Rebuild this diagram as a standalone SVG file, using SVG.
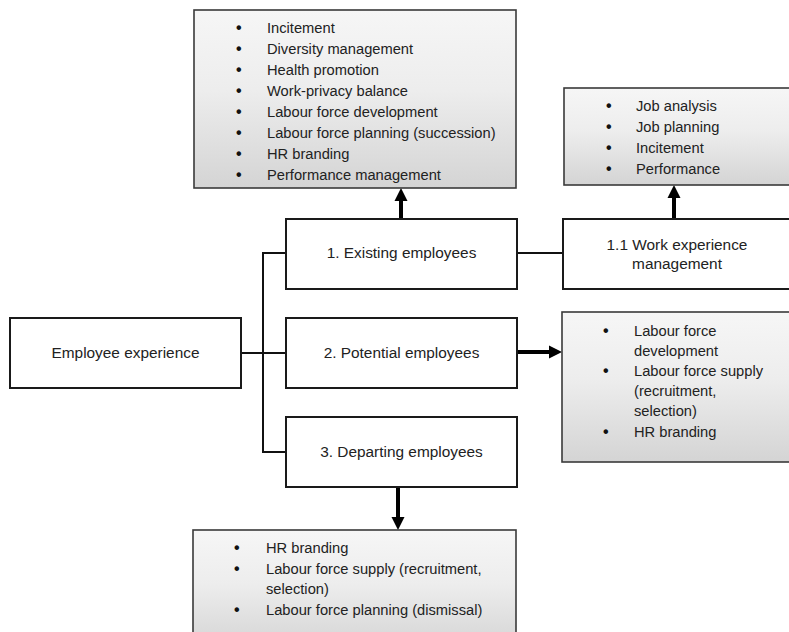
<svg xmlns="http://www.w3.org/2000/svg" width="789" height="632" viewBox="0 0 789 632">
<style>
  .node { fill: #ffffff; stroke: #1a1a1a; stroke-width: 2; }
  .list { fill: url(#grey); stroke: #3a3a3a; stroke-width: 1.6; }
  .lbl { font-family: "Liberation Sans", Arial, sans-serif; font-size: 15.4px; fill: #222222; text-anchor: middle; }
  .li { font-family: "Liberation Sans", Arial, sans-serif; font-size: 14.7px; fill: #222222; }
  .bul { font-family: "Liberation Sans", Arial, sans-serif; font-size: 16px; font-weight: bold; fill: #111111; }
  .line { fill: none; stroke: #111; stroke-width: 2; }
  .arrow { fill: none; stroke: #000; stroke-width: 4; marker-end: url(#head); }
</style>
<defs>
  <linearGradient id="grey" x1="0" y1="0" x2="0" y2="1">
    <stop offset="0" stop-color="#f6f6f6"/>
    <stop offset="0.45" stop-color="#ededed"/>
    <stop offset="1" stop-color="#d4d4d4"/>
  </linearGradient>
  <marker id="head" markerUnits="userSpaceOnUse" markerWidth="14" markerHeight="14" refX="4" refY="6.5" orient="auto" viewBox="0 0 14 13">
    <path d="M0,0 L13,6.5 L0,13 z" fill="#000"/>
  </marker>
</defs>
<rect width="789" height="632" fill="#ffffff"/>

<g id="connectors">
  <polyline class="line" points="241,353 286,353"/>
  <polyline class="line" points="286,253 263,253 263,452 286,452"/>
  <polyline class="line" points="517,253 563,253"/>
  <line class="arrow" x1="401" y1="219" x2="401" y2="197"/>
  <line class="arrow" x1="674" y1="219" x2="674" y2="194"/>
  <line class="arrow" x1="518" y1="352" x2="553" y2="352"/>
  <line class="arrow" x1="398" y1="487" x2="398" y2="521"/>
</g>

<g id="employee-experience">
  <rect class="node" x="10" y="318" width="231" height="70"/>
  <text class="lbl" x="125.5" y="358">Employee experience</text>
</g>

<g id="existing-employees">
  <rect class="node" x="286" y="219" width="231" height="70"/>
  <text class="lbl" x="401.5" y="258">1. Existing employees</text>
</g>

<g id="potential-employees">
  <rect class="node" x="286" y="318" width="231" height="70"/>
  <text class="lbl" x="401.5" y="358">2. Potential employees</text>
</g>

<g id="departing-employees">
  <rect class="node" x="286" y="417" width="231" height="70"/>
  <text class="lbl" x="401.5" y="457">3. Departing employees</text>
</g>

<g id="work-experience-management">
  <rect class="node" x="563" y="219" width="240" height="70"/>
  <text class="lbl" x="677" y="250">1.1 Work experience</text>
  <text class="lbl" x="677" y="269">management</text>
</g>

<g id="existing-list">
  <rect class="list" x="194" y="10" width="322" height="178"/>
  <g class="bul">
    <text x="236" y="33">•</text><text x="236" y="54">•</text><text x="236" y="75">•</text><text x="236" y="96">•</text>
    <text x="236" y="117">•</text><text x="236" y="138">•</text><text x="236" y="159">•</text><text x="236" y="180">•</text>
  </g>
  <g class="li">
    <text x="267" y="33">Incitement</text>
    <text x="267" y="54">Diversity management</text>
    <text x="267" y="75">Health promotion</text>
    <text x="267" y="96">Work-privacy balance</text>
    <text x="267" y="117">Labour force development</text>
    <text x="267" y="138">Labour force planning (succession)</text>
    <text x="267" y="159">HR branding</text>
    <text x="267" y="180">Performance management</text>
  </g>
</g>

<g id="work-experience-list">
  <rect class="list" x="564" y="88" width="240" height="97"/>
  <g class="bul">
    <text x="606" y="111">•</text><text x="606" y="132">•</text><text x="606" y="153">•</text><text x="606" y="174">•</text>
  </g>
  <g class="li">
    <text x="636" y="111">Job analysis</text>
    <text x="636" y="132">Job planning</text>
    <text x="636" y="153">Incitement</text>
    <text x="636" y="174">Performance</text>
  </g>
</g>

<g id="potential-list">
  <rect class="list" x="562" y="312" width="240" height="150"/>
  <g class="bul">
    <text x="603" y="336">•</text><text x="603" y="376">•</text><text x="603" y="437">•</text>
  </g>
  <g class="li">
    <text x="634" y="336">Labour force</text>
    <text x="634" y="356">development</text>
    <text x="634" y="376">Labour force supply</text>
    <text x="634" y="396">(recruitment,</text>
    <text x="634" y="416">selection)</text>
    <text x="634" y="437">HR branding</text>
  </g>
</g>

<g id="departing-list">
  <rect class="list" x="193" y="530" width="323" height="120"/>
  <g class="bul">
    <text x="234" y="553">•</text><text x="234" y="574">•</text><text x="234" y="615">•</text>
  </g>
  <g class="li">
    <text x="266" y="553">HR branding</text>
    <text x="266" y="574">Labour force supply (recruitment,</text>
    <text x="266" y="594">selection)</text>
    <text x="266" y="615">Labour force planning (dismissal)</text>
  </g>
</g>
</svg>
